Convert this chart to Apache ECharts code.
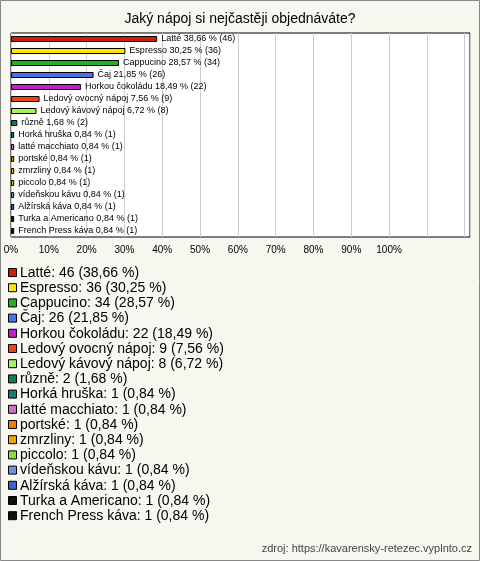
<!DOCTYPE html><html><head><meta charset="utf-8">
<script src="https://cdn.jsdelivr.net/npm/echarts@6/dist/echarts.min.js"></script>
<style>html,body{margin:0;background:#fff}#c{width:480px;height:561px}</style></head><body><div id="c"></div>
<script>
const categories=["Latté","Espresso","Cappucino","Čaj","Horkou čokoládu","Ledový ovocný nápoj","Ledový kávový nápoj","různě","Horká hruška","latté macchiato","portské","zmrzliny","piccolo","vídeňskou kávu","Alžírská káva","Turka a Americano","French Press káva"];
const counts=[46,36,34,26,22,9,8,2,1,1,1,1,1,1,1,1,1];
const percents=[38.66,30.25,28.57,21.85,18.49,7.56,6.72,1.68,0.84,0.84,0.84,0.84,0.84,0.84,0.84,0.84,0.84];
const colors=["#c8200c","#ffe600","#22b022","#4a72e8","#c020c8","#e84810","#a8f060","#108048","#207878","#d070c0","#f08000","#f0a800","#88e040","#7090e8","#4060d0","#101010","#101010"];
const tickLabels=["0%","10%","20%","30%","40%","50%","60%","70%","80%","90%","100%"];
const fmt=v=>v.toFixed(2).replace('.',',');
const F='"Liberation Sans",Arial,sans-serif';
const chart=echarts.init(document.getElementById('c'));
const graphics=[
 {type:'rect',shape:{x:0.5,y:0.5,width:479,height:560},style:{fill:'#f7f6ef',stroke:'#888',lineWidth:1},z:-10},
 {type:'text',x:240,y:19,style:{text:'Jaký nápoj si nejčastěji objednáváte?',font:'14px '+F,fill:'#000',align:'center',verticalAlign:'middle'}},
 {type:'text',x:472,y:549,style:{text:'zdroj: https://kavarensky-retezec.vyplnto.cz',font:'11px '+F,fill:'#444',align:'right',verticalAlign:'middle'}}
];
categories.forEach((c,i)=>{
 const y=273+i*15.2;
 graphics.push({type:'rect',shape:{x:8.5,y:y-4.5,width:8,height:8},style:{fill:colors[i],stroke:'#000',lineWidth:1}});
 graphics.push({type:'text',x:20,y:y,style:{text:c+': '+counts[i]+' ('+fmt(percents[i])+' %)',font:'14px '+F,fill:'#000',verticalAlign:'middle'}});
});
chart.setOption({
 animation:false,
 grid:{left:11,right:10,top:33,bottom:324,containLabel:false,show:true,backgroundColor:'#fff',borderColor:'#000',borderWidth:1},
 xAxis:{type:'value',min:0,max:121.4,interval:10,axisLine:{show:false},axisTick:{show:false},
  splitLine:{lineStyle:{color:'#ccc'}},
  axisLabel:{margin:8,fontSize:10,fontFamily:'Liberation Sans',color:'#000',showMaxLabel:false,formatter:v=>v<=100?tickLabels[Math.round(v/10)]:''}},
 yAxis:{type:'category',data:categories,inverse:true,show:false},
 series:[{type:'bar',data:percents.map((p,i)=>({value:p,itemStyle:{color:colors[i]}})),barWidth:6,
  itemStyle:{borderColor:'#000',borderWidth:1},
  label:{show:true,position:'right',distance:4,fontSize:9,fontFamily:'Liberation Sans',color:'#000',
   formatter:p=>categories[p.dataIndex]+' '+fmt(percents[p.dataIndex])+' % ('+counts[p.dataIndex]+')'}}],
 graphic:graphics
});
</script></body></html>
